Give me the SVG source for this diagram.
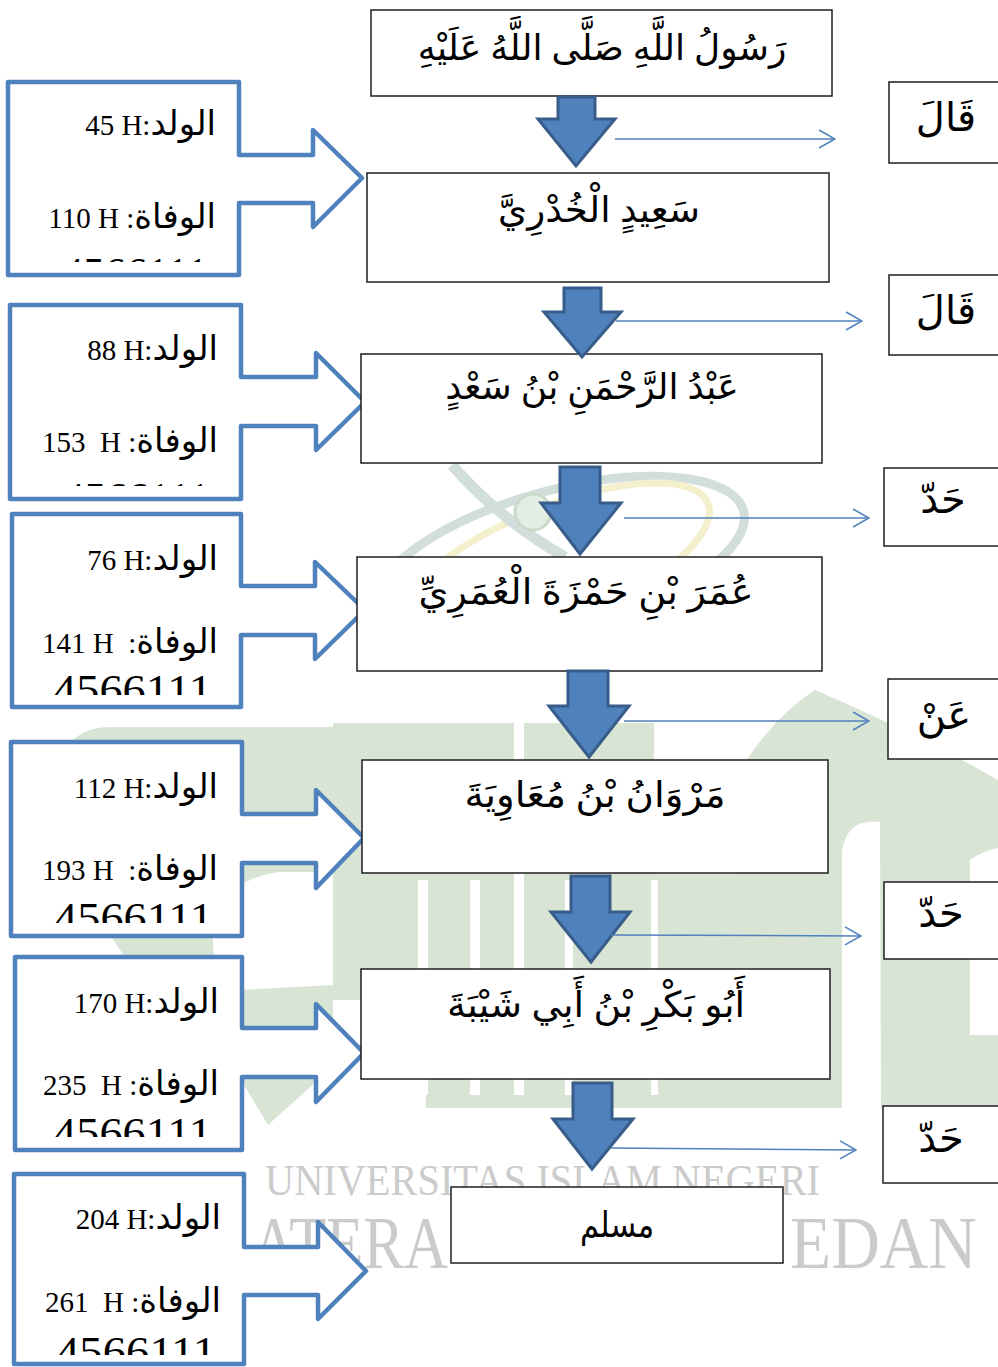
<svg xmlns="http://www.w3.org/2000/svg" width="998" height="1367" viewBox="0 0 998 1367">
<style>
.wm{fill:#d9e5d4}
.wmt{fill:#cbcbcb;font-family:"Liberation Serif",serif}
.box{fill:#fff;stroke:#1e1e1e;stroke-width:1.5}
.callout{fill:#fff;stroke:#4f81bd;stroke-width:4.5;stroke-linejoin:round}
.blk{fill:#4f81bd;stroke:#385d8a;stroke-width:3;stroke-linejoin:miter}
.conn{fill:none;stroke:#4f81bd;stroke-width:1.5}
.name{font-family:"Liberation Serif","DejaVu Sans",serif;font-size:36px;fill:#000;text-anchor:middle}
.rw{font-family:"Liberation Serif","DejaVu Sans",serif;font-size:40px;fill:#000;text-anchor:middle}
.ct{font-family:"Liberation Serif","DejaVu Sans",serif;fill:#000;text-anchor:end;direction:ltr}
.lat{font-size:29px}
.ar{font-size:34px}
.num{font-family:"Liberation Serif",serif;font-size:44px;fill:#000}
</style>
<defs>
<marker id="open" viewBox="0 0 18 20" refX="17" refY="10" markerWidth="18" markerHeight="20" markerUnits="userSpaceOnUse" orient="auto">
<path d="M1,1 L17,10 L1,19" fill="none" stroke="#4f81bd" stroke-width="1.5"/>
</marker>
<clipPath id="k1"><rect x="8" y="82" width="231" height="180"/></clipPath>
<clipPath id="k2"><rect x="10" y="305" width="231" height="181"/></clipPath>
<clipPath id="k3"><rect x="12" y="514" width="229" height="181"/></clipPath>
<clipPath id="k4"><rect x="11" y="742" width="231" height="181"/></clipPath>
<clipPath id="k5"><rect x="15" y="957" width="227" height="180"/></clipPath>
<clipPath id="k6"><rect x="14" y="1174" width="230" height="181"/></clipPath>
</defs>
<rect width="998" height="1367" fill="#fff"/>

<g id="watermark">
<ellipse cx="560" cy="560" rx="190" ry="70" transform="rotate(-15 560 560)" fill="none" stroke="#d2dedc" stroke-width="9"/>
<ellipse cx="555" cy="565" rx="165" ry="58" transform="rotate(-22 555 565)" fill="none" stroke="#f4efcc" stroke-width="7"/>
<path d="M452 465 Q500 520 565 557" fill="none" stroke="#d2dedc" stroke-width="11"/>
<circle cx="533" cy="512" r="18" fill="#e4ede4" stroke="#c9dac9" stroke-width="3"/>
<path class="wm" fill-rule="evenodd" d="M60 775 Q62 727 112 727 L333 727 L333 1060 L318 1080 L268 1125 L238 1075 Q160 1010 120 950 Q64 870 60 775 Z M213 940 Q215 880 280 872 L333 872 L333 985 L240 990 Q213 985 213 940 Z"/>
<path class="wm" d="M333 723 H654 V874 H753 V1108 H426 V1000 H333 Z"/>
<rect x="514" y="723" width="10" height="372" fill="#fff"/>
<rect x="418" y="880" width="10" height="215" fill="#fff"/>
<rect x="470" y="880" width="10" height="215" fill="#fff"/>
<rect x="565" y="880" width="8" height="215" fill="#fff"/>
<rect x="651" y="880" width="7" height="215" fill="#fff"/>
<path class="wm" fill-rule="evenodd" d="M740 1108 L740 770 Q775 715 815 690 Q920 735 998 780 L998 1108 Z M842 1108 L842 850 Q848 818 880 822 L881 1108 Z M970 1035 L970 860 Q985 850 998 848 L998 1035 Z"/>
<text class="wmt" x="265" y="1195" font-size="44" textLength="555" lengthAdjust="spacingAndGlyphs">UNIVERSITAS ISLAM NEGERI</text>
<text class="wmt" x="252" y="1268" font-size="75" textLength="196" lengthAdjust="spacingAndGlyphs">ATERA</text>
<text class="wmt" x="790" y="1268" font-size="75" textLength="187" lengthAdjust="spacingAndGlyphs">EDAN</text>
</g>

<g id="callout1">
<path class="callout" d="M8 82 H239 V155 H313 V130 L362 178 L313 227 V203 H239 V275 H8 Z"/>
<text class="ct" x="216" y="135"><tspan class="lat">45 H:</tspan><tspan class="ar">الولد</tspan></text>
<text class="ct" x="216" y="228" xml:space="preserve"><tspan class="lat">110 H :</tspan><tspan class="ar">الوفاة</tspan></text>
<text class="num" x="62" y="288" font-size="42" textLength="146" lengthAdjust="spacingAndGlyphs" clip-path="url(#k1)">4566111</text>
</g>
<g id="callout2">
<path class="callout" d="M10 305 H241 V377 H316 V353 L365 402 L316 450 V426 H241 V499 H10 Z"/>
<text class="ct" x="218" y="360"><tspan class="lat">88 H:</tspan><tspan class="ar">الولد</tspan></text>
<text class="ct" x="218" y="452" xml:space="preserve"><tspan class="lat">153  H :</tspan><tspan class="ar">الوفاة</tspan></text>
<text class="num" x="63" y="513" font-size="42" textLength="147" lengthAdjust="spacingAndGlyphs" clip-path="url(#k2)">4566111</text>
</g>
<g id="callout3">
<path class="callout" d="M12 514 H241 V586 H315 V562 L365 610 L315 659 V635 H241 V707 H12 Z"/>
<text class="ct" x="218" y="570"><tspan class="lat">76 H:</tspan><tspan class="ar">الولد</tspan></text>
<text class="ct" x="218" y="653" xml:space="preserve"><tspan class="lat">141 H  :</tspan><tspan class="ar">الوفاة</tspan></text>
<text class="num" x="53" y="705" textLength="159" lengthAdjust="spacingAndGlyphs" clip-path="url(#k3)">4566111</text>
</g>
<g id="callout4">
<path class="callout" d="M11 742 H242 V814 H316 V790 L364 838 L316 888 V863 H242 V936 H11 Z"/>
<text class="ct" x="218" y="798"><tspan class="lat">112 H:</tspan><tspan class="ar">الولد</tspan></text>
<text class="ct" x="218" y="880" xml:space="preserve"><tspan class="lat">193 H  :</tspan><tspan class="ar">الوفاة</tspan></text>
<text class="num" x="54" y="933" textLength="159" lengthAdjust="spacingAndGlyphs" clip-path="url(#k4)">4566111</text>
</g>
<g id="callout5">
<path class="callout" d="M15 957 H242 V1028 H316 V1004 L364 1053 L316 1102 V1077 H242 V1150 H15 Z"/>
<text class="ct" x="219" y="1013"><tspan class="lat">170 H:</tspan><tspan class="ar">الولد</tspan></text>
<text class="ct" x="219" y="1095" xml:space="preserve"><tspan class="lat">235  H :</tspan><tspan class="ar">الوفاة</tspan></text>
<text class="num" x="53" y="1148" textLength="159" lengthAdjust="spacingAndGlyphs" clip-path="url(#k5)">4566111</text>
</g>
<g id="callout6">
<path class="callout" d="M14 1174 H244 V1247 H318 V1222 L366 1271 L318 1319 V1295 H244 V1364 H14 Z"/>
<text class="ct" x="221" y="1229"><tspan class="lat">204 H:</tspan><tspan class="ar">الولد</tspan></text>
<text class="ct" x="221" y="1312" xml:space="preserve"><tspan class="lat">261  H :</tspan><tspan class="ar">الوفاة</tspan></text>
<text class="num" x="56" y="1367" textLength="160" lengthAdjust="spacingAndGlyphs" clip-path="url(#k6)">4566111</text>
</g>

<g id="n1"><rect class="box" x="371" y="10" width="461" height="86"/><text class="name" x="602" y="60">رَسُولُ اللَّهِ صَلَّى اللَّهُ عَلَيْهِ</text></g>
<g id="n2"><rect class="box" x="367" y="173" width="462" height="109"/><text class="name" x="599" y="222" textLength="202" lengthAdjust="spacingAndGlyphs">سَعِيدٍ الْخُدْرِيَّ</text></g>
<g id="n3"><rect class="box" x="361" y="354" width="461" height="109"/><text class="name" x="592" y="399">عَبْدُ الرَّحْمَنِ بْنُ سَعْدٍ</text></g>
<g id="n4"><rect class="box" x="357" y="557" width="465" height="114"/><text class="name" x="586" y="604" textLength="335" lengthAdjust="spacingAndGlyphs">عُمَرَ بْنِ حَمْزَةَ الْعُمَرِيِّ</text></g>
<g id="n5"><rect class="box" x="362" y="760" width="466" height="113"/><text class="name" x="595" y="807" textLength="261" lengthAdjust="spacingAndGlyphs">مَرْوَانُ بْنُ مُعَاوِيَةَ</text></g>
<g id="n6"><rect class="box" x="361" y="969" width="469" height="110"/><text class="name" x="596" y="1017" textLength="298" lengthAdjust="spacingAndGlyphs">أَبُو بَكْرِ بْنُ أَبِي شَيْبَةَ</text></g>
<g id="n7"><rect class="box" x="451" y="1187" width="332" height="76"/><text class="name" x="617" y="1237" textLength="74" lengthAdjust="spacingAndGlyphs">مسلم</text></g>

<g id="r1"><rect class="box" x="889" y="82" width="120" height="81"/><text class="rw" x="946" y="131">قَالَ</text></g>
<g id="r2"><rect class="box" x="889" y="275" width="120" height="80"/><text class="rw" x="946" y="324">قَالَ</text></g>
<g id="r3"><rect class="box" x="884" y="468" width="125" height="78"/><text class="rw" x="943" y="513">حَدّ</text></g>
<g id="r4"><rect class="box" x="888" y="679" width="121" height="80"/><text class="rw" x="944" y="729">عَنْ</text></g>
<g id="r5"><rect class="box" x="884" y="882" width="125" height="77"/><text class="rw" x="941" y="927">حَدّ</text></g>
<g id="r6"><rect class="box" x="883" y="1106" width="126" height="77"/><text class="rw" x="941" y="1152">حَدّ</text></g>

<g id="blockarrows">
<path class="blk" d="M558 97 H595 V119 H615 L576 166 L538 119 H558 Z"/>
<path class="blk" d="M564 288 H601 V312 H621 L582 357 L544 312 H564 Z"/>
<path class="blk" d="M560 467 H600 V503 H621 L580 554 L541 503 H560 Z"/>
<path class="blk" d="M568 671 H608 V706 H629 L589 757 L549 706 H568 Z"/>
<path class="blk" d="M571 876 H610 V912 H630 L591 962 L551 912 H571 Z"/>
<path class="blk" d="M573 1083 H612 V1119 H633 L592 1169 L553 1119 H573 Z"/>
</g>

<g id="connectors">
<line class="conn" x1="615" y1="139" x2="835" y2="139" marker-end="url(#open)"/>
<line class="conn" x1="616" y1="321" x2="862" y2="321" marker-end="url(#open)"/>
<line class="conn" x1="624" y1="518" x2="869" y2="518" marker-end="url(#open)"/>
<line class="conn" x1="624" y1="721" x2="869" y2="721" marker-end="url(#open)"/>
<line class="conn" x1="611" y1="935" x2="861" y2="936" marker-end="url(#open)"/>
<line class="conn" x1="611" y1="1148" x2="856" y2="1150" marker-end="url(#open)"/>
</g>
</svg>
